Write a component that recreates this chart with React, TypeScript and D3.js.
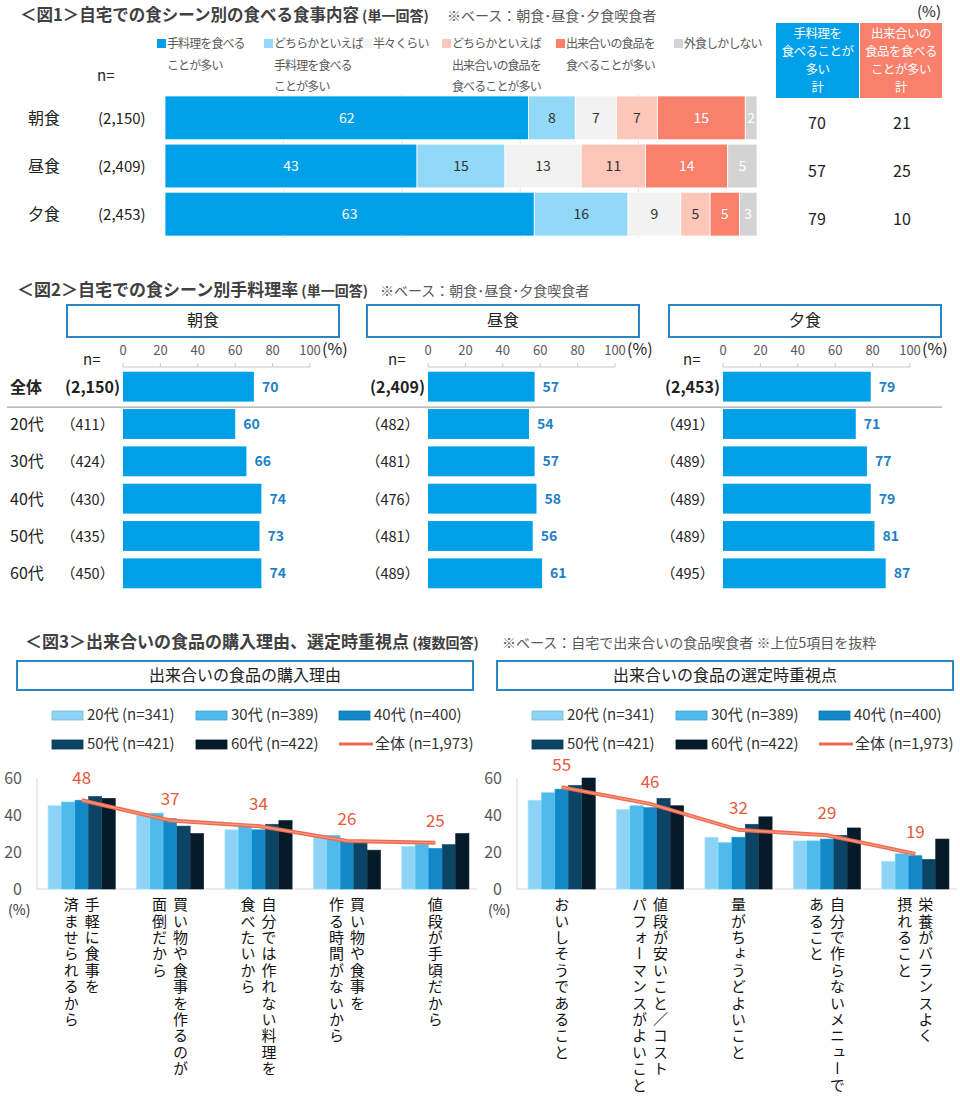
import * as d3 from "d3";

const FONT = "'Noto Sans CJK JP', 'Noto Sans', sans-serif";

// ---- 図1 data
const meals = ["朝食", "昼食", "夕食"];
const mealN = ["2,150", "2,409", "2,453"];
const fig1Legend = [
  ["手料理を食べる", "ことが多い"],
  ["どちらかといえば", "手料理を食べる", "ことが多い"],
  ["半々くらい"],
  ["どちらかといえば", "出来合いの食品を", "食べることが多い"],
  ["出来合いの食品を", "食べることが多い"],
  ["外食しかしない"],
];
const fig1Values = [
  [62, 8, 7, 7, 15, 2],
  [43, 15, 13, 11, 14, 5],
  [63, 16, 9, 5, 5, 3],
];
const homeTotal = [70, 57, 79];
const readyTotal = [21, 25, 10];
const homeHeader = ["手料理を", "食べることが", "多い", "計"];
const readyHeader = ["出来合いの", "食品を食べる", "ことが多い", "計"];

// ---- 図2 data
const ageRows = ["全体", "20代", "30代", "40代", "50代", "60代"];
const fig2N = [
  ["2,150", "411", "424", "430", "435", "450"],
  ["2,409", "482", "481", "476", "481", "489"],
  ["2,453", "491", "489", "489", "489", "495"],
];
const fig2Values = [
  [70, 60, 66, 74, 73, 74],
  [57, 54, 57, 58, 56, 61],
  [79, 71, 77, 79, 81, 87],
];
const fig2Ticks = [0, 20, 40, 60, 80, 100];

// ---- 図3 data
const ages = ["20代", "30代", "40代", "50代", "60代"];
const ageN = ["341", "389", "400", "421", "422"];
const totalN = "1,973";
const reasonLabels = [
  ["手軽に食事を", "済ませられるから"],
  ["買い物や食事を作るのが", "面倒だから"],
  ["自分では作れない料理を", "食べたいから"],
  ["買い物や食事を", "作る時間がないから"],
  ["値段が手頃だから"],
];
const reasonValues = [
  [45, 47, 48, 50, 49],
  [40, 41, 38, 34, 30],
  [32, 34, 32, 35, 37],
  [29, 29, 26, 25, 21],
  [23, 24, 22, 24, 30],
];
const reasonTotal = [48, 37, 34, 26, 25];
const pointLabels = [
  ["おいしそうであること"],
  ["値段が安いこと／コスト", "パフォーマンスがよいこと"],
  ["量がちょうどよいこと"],
  ["自分で作らないメニューで", "あること"],
  ["栄養がバランスよく", "摂れること"],
];
const pointValues = [
  [48, 52, 54, 56, 60],
  [43, 45, 44, 49, 45],
  [28, 25, 28, 35, 39],
  [26, 26, 27, 29, 33],
  [15, 19, 18, 16, 27],
];
const pointTotal = [55, 46, 32, 29, 19];
const fig3Ticks = [0, 20, 40, 60];

// colours
const BLUE = "#00a0e9";
const SALMON = "#f9806a";
const fig1Colors = [BLUE, "#92d9f8", "#f2f2f2", "#fcc6b9", SALMON, "#d3d3d3"];
const fig1TextColors = ["#fff", "#333", "#333", "#333", "#fff", "#fff"];
const ageColors = ["#8ed3f5", "#50baec", "#1288c6", "#0b4465", "#061b29"];
const LINE = "#ee6a4e";
const GRAY = "#595959";

function Fig1() {
  const y = d3.scaleBand<string>().domain(meals).range([95, 237]).paddingInner(0.09).paddingOuter(0.02);
  const grid = d3.scaleLinear().domain([0, 100]).range([165, 757]);
  const legendX = [157, 264, 363, 442, 556, 674];
  return (
    <g>
      <text x={20} y={21} fontSize={16.5} fontWeight="bold" fill="#404040">
        ＜図1＞自宅での食シーン別の食べる食事内容
        <tspan fontSize={14}> (単一回答)</tspan>
      </text>
      <text x={447} y={21} fontSize={14} fill={GRAY}>※ベース：朝食･昼食･夕食喫食者</text>
      {fig1Legend.map((lines, i) => (
        <g key={i}>
          <rect x={legendX[i]} y={39} width={9} height={9} fill={fig1Colors[i]} />
          {lines.map((t, j) => (
            <text key={j} x={legendX[i] + 10} y={48 + j * 21.5} fontSize={12} letterSpacing={-0.9} fill={GRAY}>{t}</text>
          ))}
        </g>
      ))}
      <text x={97} y={81} fontSize={15} fill="#222">n=</text>
      {[20, 40, 60, 80].map((t) => (
        <line key={t} x1={grid(t)} x2={grid(t)} y1={94} y2={238} stroke="#e2e2e2" />
      ))}
      {meals.map((m, r) => {
        const row = fig1Values[r];
        const x = d3.scaleLinear().domain([0, d3.sum(row)]).range([165, 757]);
        const ends = Array.from(d3.cumsum(row));
        const y0 = y(m)!;
        const bh = y.bandwidth();
        return (
          <g key={m}>
            <text x={28} y={y0 + bh / 2 + 6} fontSize={16} fill="#222">{m}</text>
            <text x={98} y={y0 + bh / 2 + 6} fontSize={15} fill="#222">({mealN[r]})</text>
            {row.map((v, i) => {
              const x0 = x(ends[i] - v);
              const x1 = x(ends[i]);
              return (
                <g key={i}>
                  <rect x={x0} y={y0} width={x1 - x0} height={bh} fill={fig1Colors[i]} stroke="#fff" strokeWidth={0.8} />
                  <text x={(x0 + x1) / 2} y={y0 + bh / 2 + 5} textAnchor="middle" fontSize={14} fill={fig1TextColors[i]}>{v}</text>
                </g>
              );
            })}
            <text x={817} y={y0 + bh / 2 + 11} textAnchor="middle" fontSize={16} fill="#222">{homeTotal[r]}</text>
            <text x={902} y={y0 + bh / 2 + 11} textAnchor="middle" fontSize={16} fill="#222">{readyTotal[r]}</text>
          </g>
        );
      })}
      <text x={917} y={17} fontSize={15} fill="#222">(%)</text>
      <rect x={776} y={23} width={83} height={75} fill={BLUE} />
      <rect x={860} y={23} width={82} height={75} fill={SALMON} />
      {homeHeader.map((t, i) => (
        <text key={i} x={817.5} y={38 + i * 18} textAnchor="middle" fontSize={12.5} letterSpacing={-0.5} fill="#fff">{t}</text>
      ))}
      {readyHeader.map((t, i) => (
        <text key={i} x={901} y={38 + i * 18} textAnchor="middle" fontSize={12.5} letterSpacing={-0.5} fill="#fff">{t}</text>
      ))}
    </g>
  );
}

function Fig2() {
  const panelX = [123, 428, 723];
  const boxX = [67, 367, 669];
  const y = d3.scaleBand<string>().domain(ageRows).range([368, 592]).paddingInner(0.2).paddingOuter(0.1);
  const bh = y.bandwidth();
  return (
    <g>
      <text x={17} y={296} fontSize={17} fontWeight="bold" fill="#404040">
        ＜図2＞自宅での食シーン別手料理率
        <tspan fontSize={14}> (単一回答)</tspan>
      </text>
      <text x={380} y={296} fontSize={14} fill={GRAY}>※ベース：朝食･昼食･夕食喫食者</text>
      <line x1={7} x2={942} y1={y("20代")! - 2} y2={y("20代")! - 2} stroke="#a6a6a6" strokeWidth={1.2} />
      {ageRows.map((a) => (
        <text key={a} x={10} y={y(a)! + bh / 2 + 6} fontSize={16} fontWeight={a === "全体" ? "bold" : "normal"} fill="#222">{a}</text>
      ))}
      {meals.map((m, p) => {
        const x = d3.scaleLinear().domain([0, 100]).range([panelX[p], panelX[p] + 187]);
        return (
          <g key={m}>
            <rect x={boxX[p]} y={305} width={272} height={32} fill="#fff" stroke="#2a84c6" strokeWidth={2} />
            <text x={boxX[p] + 136} y={326} textAnchor="middle" fontSize={16} fill="#222">{m}</text>
            <text x={panelX[p] - 40} y={365} fontSize={15} fill="#222">n=</text>
            <line x1={x(0)} x2={x(100)} y1={367} y2={367} stroke="#c8c8c8" />
            {fig2Ticks.map((t) => (
              <g key={t}>
                <line x1={x(t)} x2={x(t)} y1={363} y2={367} stroke="#c8c8c8" />
                <text x={x(t)} y={355} textAnchor="middle" fontSize={13} fill={GRAY}>{t}</text>
              </g>
            ))}
            <text x={x(100) + 12} y={355} fontSize={16} fill="#222">(%)</text>
            {ageRows.map((a, i) => {
              const v = fig2Values[p][i];
              const y0 = y(a)!;
              return (
                <g key={a}>
                  {i === 0 ? (
                    <text x={x(0) - 3} y={y0 + bh / 2 + 6} textAnchor="end" fontSize={16} fontWeight="bold" fill="#222">({fig2N[p][i]})</text>
                  ) : (
                    <text x={x(0) - 62} y={y0 + bh / 2 + 6} fontSize={14.5} fill="#222">（{fig2N[p][i]}）</text>
                  )}
                  <rect x={x(0)} y={y0} width={x(v) - x(0)} height={bh} fill={BLUE} />
                  <text x={x(v) + 8} y={y0 + bh / 2 + 5} fontSize={14} fontWeight="bold" fill="#1f7fc8">{v}</text>
                </g>
              );
            })}
          </g>
        );
      })}
    </g>
  );
}

function Fig3Panel({ ox, title, labels, values, total }: { ox: number; title: string; labels: string[][]; values: number[][]; total: number[] }) {
  const cats = labels.map((_, i) => String(i));
  const x = d3.scaleBand<string>().domain(cats).range([ox + 37, ox + 480]).paddingInner(0.24).paddingOuter(0.125);
  const xa = d3.scaleBand<string>().domain(ages).range([0, x.bandwidth()]).paddingInner(0.02);
  const y = d3.scaleLinear().domain([0, 60]).range([889, 778]);
  const cx = (i: number) => x(String(i))! + x.bandwidth() / 2;
  const line = d3.line<number>().x((_, i) => cx(i)).y((d) => y(d));
  const legendX = [52, 196, 339];
  return (
    <g>
      <rect x={ox + 17} y={661} width={456} height={29} fill="#fff" stroke="#2a84c6" strokeWidth={2} />
      <text x={ox + 245} y={681} textAnchor="middle" fontSize={16} fill="#222">{title}</text>
      {ages.map((a, i) => (
        <g key={a}>
          <rect x={ox + legendX[i % 3]} y={711 + Math.floor(i / 3) * 29} width={31} height={9} fill={ageColors[i]} stroke={d3.color(ageColors[i])!.darker(0.4).toString()} strokeWidth={0.8} />
          <text x={ox + legendX[i % 3] + 35} y={720 + Math.floor(i / 3) * 29} fontSize={15} fill="#333">{a} (n={ageN[i]})</text>
        </g>
      ))}
      <line x1={ox + legendX[2]} x2={ox + legendX[2] + 34} y1={744} y2={744} stroke={LINE} strokeWidth={3} />
      <text x={ox + legendX[2] + 36} y={749} fontSize={15} fill="#333">全体 (n={totalN})</text>
      {fig3Ticks.map((t) => (
        <text key={t} x={ox + 22} y={y(t) + 6} textAnchor="end" fontSize={16} fill={GRAY}>{t}</text>
      ))}
      <line x1={ox + 37} x2={ox + 37} y1={778} y2={889} stroke="#d9d9d9" />
      <line x1={ox + 37} x2={ox + 477} y1={889} y2={889} stroke="#d9d9d9" />
      <text x={ox + 8} y={915} fontSize={14} fill="#333">(%)</text>
      {values.map((row, i) => (
        <g key={i}>
          {row.map((v, j) => (
            <rect key={j} x={x(String(i))! + xa(ages[j])!} y={y(v)} width={xa.bandwidth()} height={y(0) - y(v)} fill={ageColors[j]} stroke={d3.color(ageColors[j])!.brighter(0.3).toString()} strokeWidth={0.6} />
          ))}
        </g>
      ))}
      <path d={line(total) ?? ""} fill="none" stroke={LINE} strokeWidth={4} />
      <path d={line(total) ?? ""} fill="none" stroke="#f69a84" strokeWidth={1.2} />
      {total.map((v, i) => (
        <text key={i} x={cx(i)} y={y(v) - 16} textAnchor="middle" fontSize={17} fill="#e8583b">{v}</text>
      ))}
      {labels.map((lines, i) =>
        lines.map((t, k) => (
          <text key={i + "-" + k} x={cx(i) + ((lines.length - 1) / 2) * 21 - k * 21} y={897} fontSize={15} letterSpacing={1.4} fill="#111" style={{ writingMode: "vertical-rl" }}>{t}</text>
        ))
      )}
    </g>
  );
}

function Fig3() {
  return (
    <g>
      <text x={25} y={648} fontSize={17} fontWeight="bold" fill="#404040">
        ＜図3＞出来合いの食品の購入理由、選定時重視点
        <tspan fontSize={14}> (複数回答)</tspan>
      </text>
      <text x={502} y={648} fontSize={14} fill={GRAY}>※ベース：自宅で出来合いの食品喫食者 ※上位5項目を抜粋</text>
      <Fig3Panel ox={0} title="出来合いの食品の購入理由" labels={reasonLabels} values={reasonValues} total={reasonTotal} />
      <Fig3Panel ox={480} title="出来合いの食品の選定時重視点" labels={pointLabels} values={pointValues} total={pointTotal} />
    </g>
  );
}

export default function App() {
  return (
    <svg width={960} height={1104} style={{ position: "absolute", left: 0, top: 0, background: "#fff" }} fontFamily={FONT}>
      <Fig1 />
      <Fig2 />
      <Fig3 />
    </svg>
  );
}
